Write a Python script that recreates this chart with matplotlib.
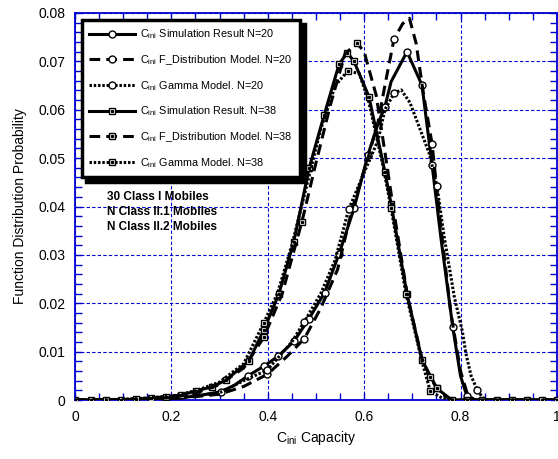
import matplotlib
matplotlib.use("Agg")
import matplotlib.pyplot as plt
from matplotlib.ticker import MultipleLocator
from matplotlib.legend_handler import HandlerTuple

plt.rcParams['font.family'] = ['Liberation Sans', 'DejaVu Sans']
plt.rcParams['mathtext.fontset'] = 'custom'
plt.rcParams['mathtext.rm'] = 'Liberation Sans'
plt.rcParams['mathtext.it'] = 'Liberation Sans'

# N=38 curves (square markers)
x38_sim = [0.0, 0.033, 0.064, 0.095, 0.126, 0.158, 0.189, 0.22, 0.251, 0.284, 0.313,
           0.361, 0.392, 0.423, 0.454, 0.486, 0.517, 0.548, 0.565, 0.579, 0.61, 0.643,
           0.656, 0.689, 0.72, 0.751, 0.782, 0.814, 0.845, 0.876, 0.907, 0.938, 0.969, 1.0]
y38_sim = [0, 0, 0, 0, 0.0002, 0.0004, 0.0007, 0.001, 0.0019, 0.0027, 0.0041,
           0.0081, 0.0145, 0.0219, 0.0327, 0.048, 0.0589, 0.0694, 0.0718, 0.070, 0.0627, 0.0472,
           0.0405, 0.0219, 0.0083, 0.0024, 0, 0, 0, 0, 0, 0, 0, 0]

x38_f = [0.0, 0.1, 0.2, 0.25, 0.3, 0.35, 0.392, 0.43, 0.471, 0.5, 0.53, 0.56, 0.585,
         0.6, 0.625, 0.645, 0.66, 0.69, 0.72, 0.737, 0.751, 0.765, 0.782, 0.85, 1.0]
y38_f = [0, 0, 0.0005, 0.0014, 0.0032, 0.0066, 0.013, 0.022, 0.0369, 0.049, 0.061, 0.0715, 0.0738,
         0.072, 0.063, 0.05, 0.040, 0.0215, 0.0085, 0.0047, 0.0024, 0.001, 0, 0, 0]

x38_gam = [0.0, 0.1, 0.2, 0.25, 0.3, 0.35, 0.392, 0.42, 0.45, 0.48, 0.51, 0.54, 0.566,
           0.59, 0.61, 0.64, 0.656, 0.687, 0.72, 0.737, 0.76, 0.78, 0.85, 1.0]
y38_gam = [0, 0.0001, 0.0008, 0.0019, 0.0037, 0.0075, 0.016, 0.022, 0.032, 0.044, 0.056, 0.065, 0.068,
           0.0675, 0.0615, 0.048, 0.0396, 0.0219, 0.008, 0.0019, 0.0005, 0, 0, 0]

# N=20 curves (circle markers)
x20_sim = [0.0, 0.1, 0.2, 0.25, 0.302, 0.33, 0.359, 0.392, 0.421, 0.454, 0.485, 0.518, 0.548,
           0.579, 0.608, 0.629, 0.643, 0.656, 0.689, 0.72, 0.741, 0.76, 0.784, 0.8, 0.813, 0.83, 1.0]
y20_sim = [0, 0, 0.0003, 0.0008, 0.0017, 0.003, 0.005, 0.007, 0.009, 0.0121, 0.0167, 0.0222, 0.0302,
           0.0396, 0.0507, 0.0572, 0.0606, 0.0658, 0.072, 0.0651, 0.0486, 0.033, 0.015, 0.005, 0.0009, 0, 0]

x20_f = [0.0, 0.2, 0.3, 0.35, 0.399, 0.44, 0.476, 0.51, 0.545, 0.575, 0.608, 0.629, 0.645,
         0.662, 0.68, 0.694, 0.708, 0.722, 0.741, 0.76, 0.78, 0.8, 0.815, 0.83, 1.0]
y20_f = [0, 0.0002, 0.0012, 0.0028, 0.0053, 0.009, 0.0127, 0.019, 0.027, 0.0395, 0.05, 0.0575, 0.066,
         0.0746, 0.0778, 0.0789, 0.0737, 0.064, 0.0529, 0.035, 0.018, 0.006, 0.001, 0, 0]

x20_gam = [0.0, 0.2, 0.3, 0.35, 0.399, 0.45, 0.476, 0.51, 0.54, 0.568, 0.6, 0.629, 0.643, 0.662,
           0.677, 0.695, 0.711, 0.735, 0.751, 0.766, 0.787, 0.804, 0.811, 0.822, 0.835, 0.85, 1.0]
y20_gam = [0, 0.0003, 0.0015, 0.004, 0.0062, 0.012, 0.0162, 0.022, 0.029, 0.0394, 0.047, 0.0537, 0.06, 0.0634,
           0.0641, 0.0615, 0.0573, 0.051, 0.0443, 0.0338, 0.0214, 0.0141, 0.0097, 0.005, 0.002, 0, 0]

labels = [r"C$_{\rm ini}$ Simulation Result N=20",
          r"C$_{\rm ini}$ F_Distribution Model. N=20",
          r"C$_{\rm ini}$ Gamma Model. N=20",
          r"C$_{\rm ini}$ Simulation Result. N=38",
          r"C$_{\rm ini}$ F_Distribution Model. N=38",
          r"C$_{\rm ini}$ Gamma Model. N=38"]
note = "30 Class I Mobiles\nN Class II.1 Mobiles\nN Class II.2 Mobiles"

BLUE = '#0000d0'
LW = 2.2
DASH = (3.5, 2.0)
DOT = (0.8, 0.6)

fig = plt.figure(figsize=(5.58, 4.59), dpi=100)
ax = fig.add_axes([0.1344, 0.1285, 0.8636, 0.8432])


def curve(x, y, dashes, marker, every):
    ln, = ax.plot(x, y, color='black', lw=LW, marker=marker, ms=5, mfc='white',
                  mec='black', mew=1.0, markevery=every, zorder=3)
    if dashes is not None:
        ln.set_dashes(dashes)
        ln.set_dash_capstyle('butt')
    if marker == 's':
        dot, = ax.plot(x, y, ls='none', marker='s', ms=1.3, color='black',
                       markevery=every, zorder=4)
        return (ln, dot)
    return ln


h = []
h.append(curve(x20_sim, y20_sim, None, 'o', [4, 6, 7, 8, 9, 10, 11, 12, 13, 14, 16, 18, 19, 20, 22, 24]))
h.append(curve(x20_f, y20_f, DASH, 'o', [4, 6, 13, 18]))
h.append(curve(x20_gam, y20_gam, DOT, 'o', [4, 6, 9, 13, 18, 24]))
h.append(curve(x38_sim, y38_sim, None, 's', None))
h.append(curve(x38_f, y38_f, DASH, 's', [6, 8, 12, 19, 20]))
h.append(curve(x38_gam, y38_gam, DOT, 's', [6, 12, 16, 17, 19]))

ax.set_xlim(0, 1)
ax.set_ylim(0, 0.08)
ax.xaxis.set_minor_locator(MultipleLocator(0.05))
ax.yaxis.set_minor_locator(MultipleLocator(0.002))
ax.set_xticks([0, 0.2, 0.4, 0.6, 0.8, 1.0])
ax.set_xticklabels(['0', '0.2', '0.4', '0.6', '0.8', '1'])
ax.set_yticks([0, 0.01, 0.02, 0.03, 0.04, 0.05, 0.06, 0.07, 0.08])
ax.set_yticklabels(['0', '0.01', '0.02', '0.03', '0.04', '0.05', '0.06', '0.07', '0.08'])
ax.tick_params(which='both', direction='in', top=True, right=True, color=BLUE,
               labelsize=10, labelcolor='black', width=1.0)
ax.tick_params(which='major', length=5, pad=7)
ax.tick_params(which='minor', length=5)
for s in ax.spines.values():
    s.set_color(BLUE)
    s.set_linewidth(1.3)
ax.grid(True, which='major', color=BLUE, ls=(0, (3, 2)), lw=0.8)
ax.set_axisbelow(True)

ax.set_xlabel(r"C$_{\rm ini}$ Capacity", fontsize=10, labelpad=4)
ax.set_ylabel("Function Distribution Probability", fontsize=10, labelpad=8)

leg = ax.legend(h, labels, loc='upper left', bbox_to_anchor=(0.014, 0.982),
                borderaxespad=0, fontsize=7.8, handlelength=4.2, handletextpad=0.5,
                labelspacing=1.1, borderpad=0.7, numpoints=1, fancybox=False, framealpha=1,
                shadow={'color': 'black', 'alpha': 1, 'ox': 3, 'oy': -3},
                handler_map={tuple: HandlerTuple(ndivide=1)})
leg.get_frame().set_edgecolor('black')
leg.get_frame().set_linewidth(2.5)
leg.set_zorder(10)

ax.text(0.066, 0.0432, note, fontsize=8.5, fontweight='bold', va='top', ha='left',
        linespacing=1.35, zorder=5)

fig.savefig('out.png', dpi=100)
